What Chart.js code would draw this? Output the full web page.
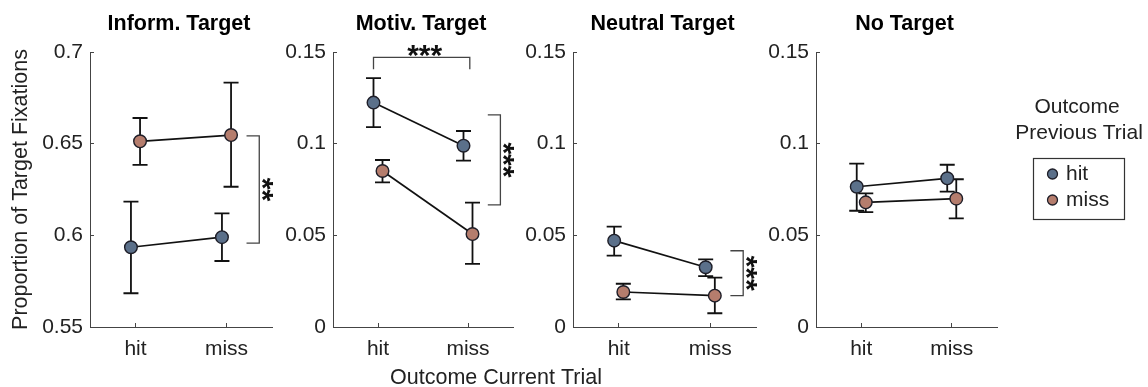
<!DOCTYPE html>
<html>
<head>
<meta charset="utf-8">
<script src="https://cdn.jsdelivr.net/npm/chart.js@4.4.1/dist/chart.umd.min.js"></script>
<style>
  body { margin: 0; background: #fff; }
  #wrap { position: relative; width: 1148px; height: 387px; }
  #wrap canvas { position: absolute; left: 0; top: 0; }
</style>
</head>
<body>
<div id="wrap">
  <canvas id="c0" width="1148" height="387"></canvas>
  <canvas id="c1" width="1148" height="387"></canvas>
  <canvas id="c2" width="1148" height="387"></canvas>
  <canvas id="c3" width="1148" height="387"></canvas>
</div>
<script>
// data
const conditions = ['hit', 'miss'];
const panelTitles = ['Inform. Target', 'Motiv. Target', 'Neutral Target', 'No Target'];
const yMin = [0.55, 0, 0, 0];
const yMax = [0.7, 0.15, 0.15, 0.15];

// previous trial = hit
const prevHitMean  = [[0.5935, 0.599], [0.1224, 0.0989], [0.0471, 0.0326], [0.0765, 0.0811]];
const prevHitUpper = [[0.6184, 0.612], [0.1357, 0.1069], [0.0547, 0.0369], [0.0891, 0.0885]];
const prevHitLower = [[0.5684, 0.586], [0.1090, 0.0907], [0.0389, 0.0278], [0.0634, 0.0738]];
// previous trial = miss
const prevMissMean  = [[0.6513, 0.6547], [0.0851, 0.0507], [0.0191, 0.0171], [0.0680, 0.0700]];
const prevMissUpper = [[0.6640, 0.6833], [0.0911, 0.0678], [0.0236, 0.0269], [0.0729, 0.0806]];
const prevMissLower = [[0.6384, 0.6265], [0.0789, 0.0344], [0.0151, 0.0075], [0.0627, 0.0593]];

// significance brackets (values in data units)
const sigBrackets = [
  [{ dir: 'v', from: 0.5958, to: 0.6542, label: '**' }],
  [{ dir: 'h', from: 0.95, to: 2.02, level: 0.1471, label: '***' },
   { dir: 'v', from: 0.0666, to: 0.1157, label: '***' }],
  [{ dir: 'v', from: 0.0171, to: 0.0416, label: '***' }],
  []
];

const W = 1148;
const areaLeft = [90, 333, 573, 816];
const areaRight = [272, 513, 756, 997];
const dodge = 0.05;
const blue = '#5b708a';
const rose = '#b57d6d';
const FONT = "'Liberation Sans', Arial, sans-serif";

Chart.defaults.font.family = FONT;
Chart.defaults.color = '#222';

const errorBars = {
  id: 'errorBars',
  beforeDatasetDraw(chart, args) {
    const ds = chart.data.datasets[args.index];
    const y = chart.scales.y;
    const ctx = chart.ctx;
    ctx.save();
    ctx.strokeStyle = '#111';
    ctx.lineWidth = 1.8;
    args.meta.data.forEach((pt, j) => {
      const top = y.getPixelForValue(ds.upper[j]);
      const bot = y.getPixelForValue(ds.lower[j]);
      ctx.beginPath();
      ctx.moveTo(pt.x, top); ctx.lineTo(pt.x, bot);
      ctx.moveTo(pt.x - 7.5, top); ctx.lineTo(pt.x + 7.5, top);
      ctx.moveTo(pt.x - 7.5, bot); ctx.lineTo(pt.x + 7.5, bot);
      ctx.stroke();
    });
    ctx.restore();
  }
};

function stars(ctx, text, cx, cy, rotate) {
  const fs = 30;
  ctx.save();
  ctx.translate(cx, cy);
  if (rotate) ctx.rotate(Math.PI / 2);
  ctx.font = 'bold ' + fs + 'px ' + FONT;
  ctx.textAlign = 'center';
  ctx.textBaseline = 'alphabetic';
  ctx.fillStyle = '#111';
  ctx.fillText(text, 0, 0.58 * fs);
  ctx.restore();
}

const brackets = {
  id: 'brackets',
  afterDatasetsDraw(chart, args, opts) {
    const ctx = chart.ctx;
    const xs = chart.scales.x, ys = chart.scales.y;
    ctx.save();
    ctx.strokeStyle = '#444';
    ctx.lineWidth = 1.3;
    (opts.items || []).forEach(b => {
      if (b.dir === 'v') {
        const x0 = xs.getPixelForValue(2.22), x1 = xs.getPixelForValue(2.36);
        const y0 = ys.getPixelForValue(b.to), y1 = ys.getPixelForValue(b.from);
        ctx.beginPath();
        ctx.moveTo(x0, y0); ctx.lineTo(x1, y0); ctx.lineTo(x1, y1); ctx.lineTo(x0, y1);
        ctx.stroke();
        stars(ctx, b.label, x1 + 11, (y0 + y1) / 2, true);
      } else {
        const x0 = xs.getPixelForValue(b.from), x1 = xs.getPixelForValue(b.to);
        const yl = ys.getPixelForValue(b.level);
        ctx.beginPath();
        ctx.moveTo(x0, yl + 12); ctx.lineTo(x0, yl); ctx.lineTo(x1, yl); ctx.lineTo(x1, yl + 12);
        ctx.stroke();
        stars(ctx, b.label, (x0 + x1) / 2 + 3, yl - 10, false);
      }
    });
    ctx.restore();
  }
};

const panelText = {
  id: 'panelText',
  afterDraw(chart, args, opts) {
    const ctx = chart.ctx;
    const a = chart.chartArea;
    ctx.save();
    ctx.fillStyle = '#000';
    ctx.textAlign = 'center';
    ctx.textBaseline = 'middle';
    ctx.font = 'bold 21.5px ' + FONT;
    ctx.fillText(opts.title, (a.left + a.right) / 2 - 2, 24);
    if (opts.xTitle) {
      ctx.font = '21.5px ' + FONT;
      ctx.fillStyle = '#222';
      ctx.fillText(opts.xTitle, 496, 378);
    }
    ctx.restore();
  }
};

const boxLegend = {
  id: 'boxLegend',
  afterDraw(chart, args, opts) {
    if (!opts.show) return;
    const ctx = chart.ctx;
    ctx.save();
    ctx.fillStyle = '#222';
    ctx.font = '21px ' + FONT;
    ctx.textAlign = 'center';
    ctx.textBaseline = 'middle';
    ctx.fillText('Outcome', 1077, 107);
    ctx.fillText('Previous Trial', 1079, 133);
    ctx.strokeStyle = '#333';
    ctx.lineWidth = 1.2;
    ctx.strokeRect(1033.5, 158.5, 91, 61);
    ctx.textAlign = 'left';
    chart.data.datasets.forEach((ds, k) => {
      const yy = 174 + k * 26;
      ctx.beginPath();
      ctx.arc(1052.5, yy, 5, 0, Math.PI * 2);
      ctx.fillStyle = ds.backgroundColor;
      ctx.fill();
      ctx.lineWidth = 1.3;
      ctx.strokeStyle = '#1e1e28';
      ctx.stroke();
      ctx.fillStyle = '#222';
      ctx.fillText(ds.label, 1066, yy);
    });
    ctx.restore();
  }
};

function series(label, mean, upper, lower, color, shift) {
  return {
    label: label,
    data: conditions.map((c, j) => ({ x: j + 1 + shift, y: mean[j] })),
    upper: upper,
    lower: lower,
    borderColor: '#111',
    borderWidth: 1.7,
    backgroundColor: color,
    pointBackgroundColor: color,
    pointBorderColor: '#1e1e28',
    pointBorderWidth: 1.4,
    pointRadius: 6.3,
    tension: 0,
    clip: false
  };
}

panelTitles.forEach((title, i) => {
  const yW = i === 0 ? 90 : 60;
  new Chart(document.getElementById('c' + i), {
    type: 'line',
    data: {
      datasets: [
        series('hit', prevHitMean[i], prevHitUpper[i], prevHitLower[i], blue, -dodge),
        series('miss', prevMissMean[i], prevMissUpper[i], prevMissLower[i], rose, dodge)
      ]
    },
    options: {
      responsive: false,
      animation: false,
      events: [],
      layout: { padding: { left: areaLeft[i] - yW, right: W - areaRight[i], top: 52, bottom: 0 } },
      scales: {
        x: {
          type: 'linear',
          min: 0.5,
          max: 2.5,
          afterBuildTicks: s => { s.ticks = conditions.map((c, j) => ({ value: j + 1 })); },
          afterFit: s => { s.height = 60; },
          ticks: {
            callback: v => conditions[v - 1],
            font: { size: 21 },
            color: '#222',
            padding: 14,
            maxRotation: 0,
            autoSkip: false
          },
          grid: { drawOnChartArea: false, tickLength: -4, color: '#444', lineWidth: 1 },
          border: { color: '#444', width: 1 }
        },
        y: {
          min: yMin[i],
          max: yMax[i],
          afterFit: s => { s.width = yW; },
          ticks: {
            stepSize: 0.05,
            callback: v => String(Number(v.toFixed(2))),
            font: { size: 21 },
            color: '#222',
            padding: 11
          },
          grid: { drawOnChartArea: false, tickLength: -4, color: '#444', lineWidth: 1 },
          border: { color: '#444', width: 1 },
          title: {
            display: i === 0,
            text: 'Proportion of Target Fixations',
            font: { size: 21.5 },
            color: '#222',
            padding: { top: 8, bottom: 0 }
          }
        }
      },
      plugins: {
        legend: { display: false },
        tooltip: { enabled: false },
        panelText: { title: title, xTitle: i === 1 ? 'Outcome Current Trial' : null },
        brackets: { items: sigBrackets[i] },
        boxLegend: { show: i === 3 }
      }
    },
    plugins: [errorBars, brackets, panelText, boxLegend]
  });
});
</script>
</body>
</html>
